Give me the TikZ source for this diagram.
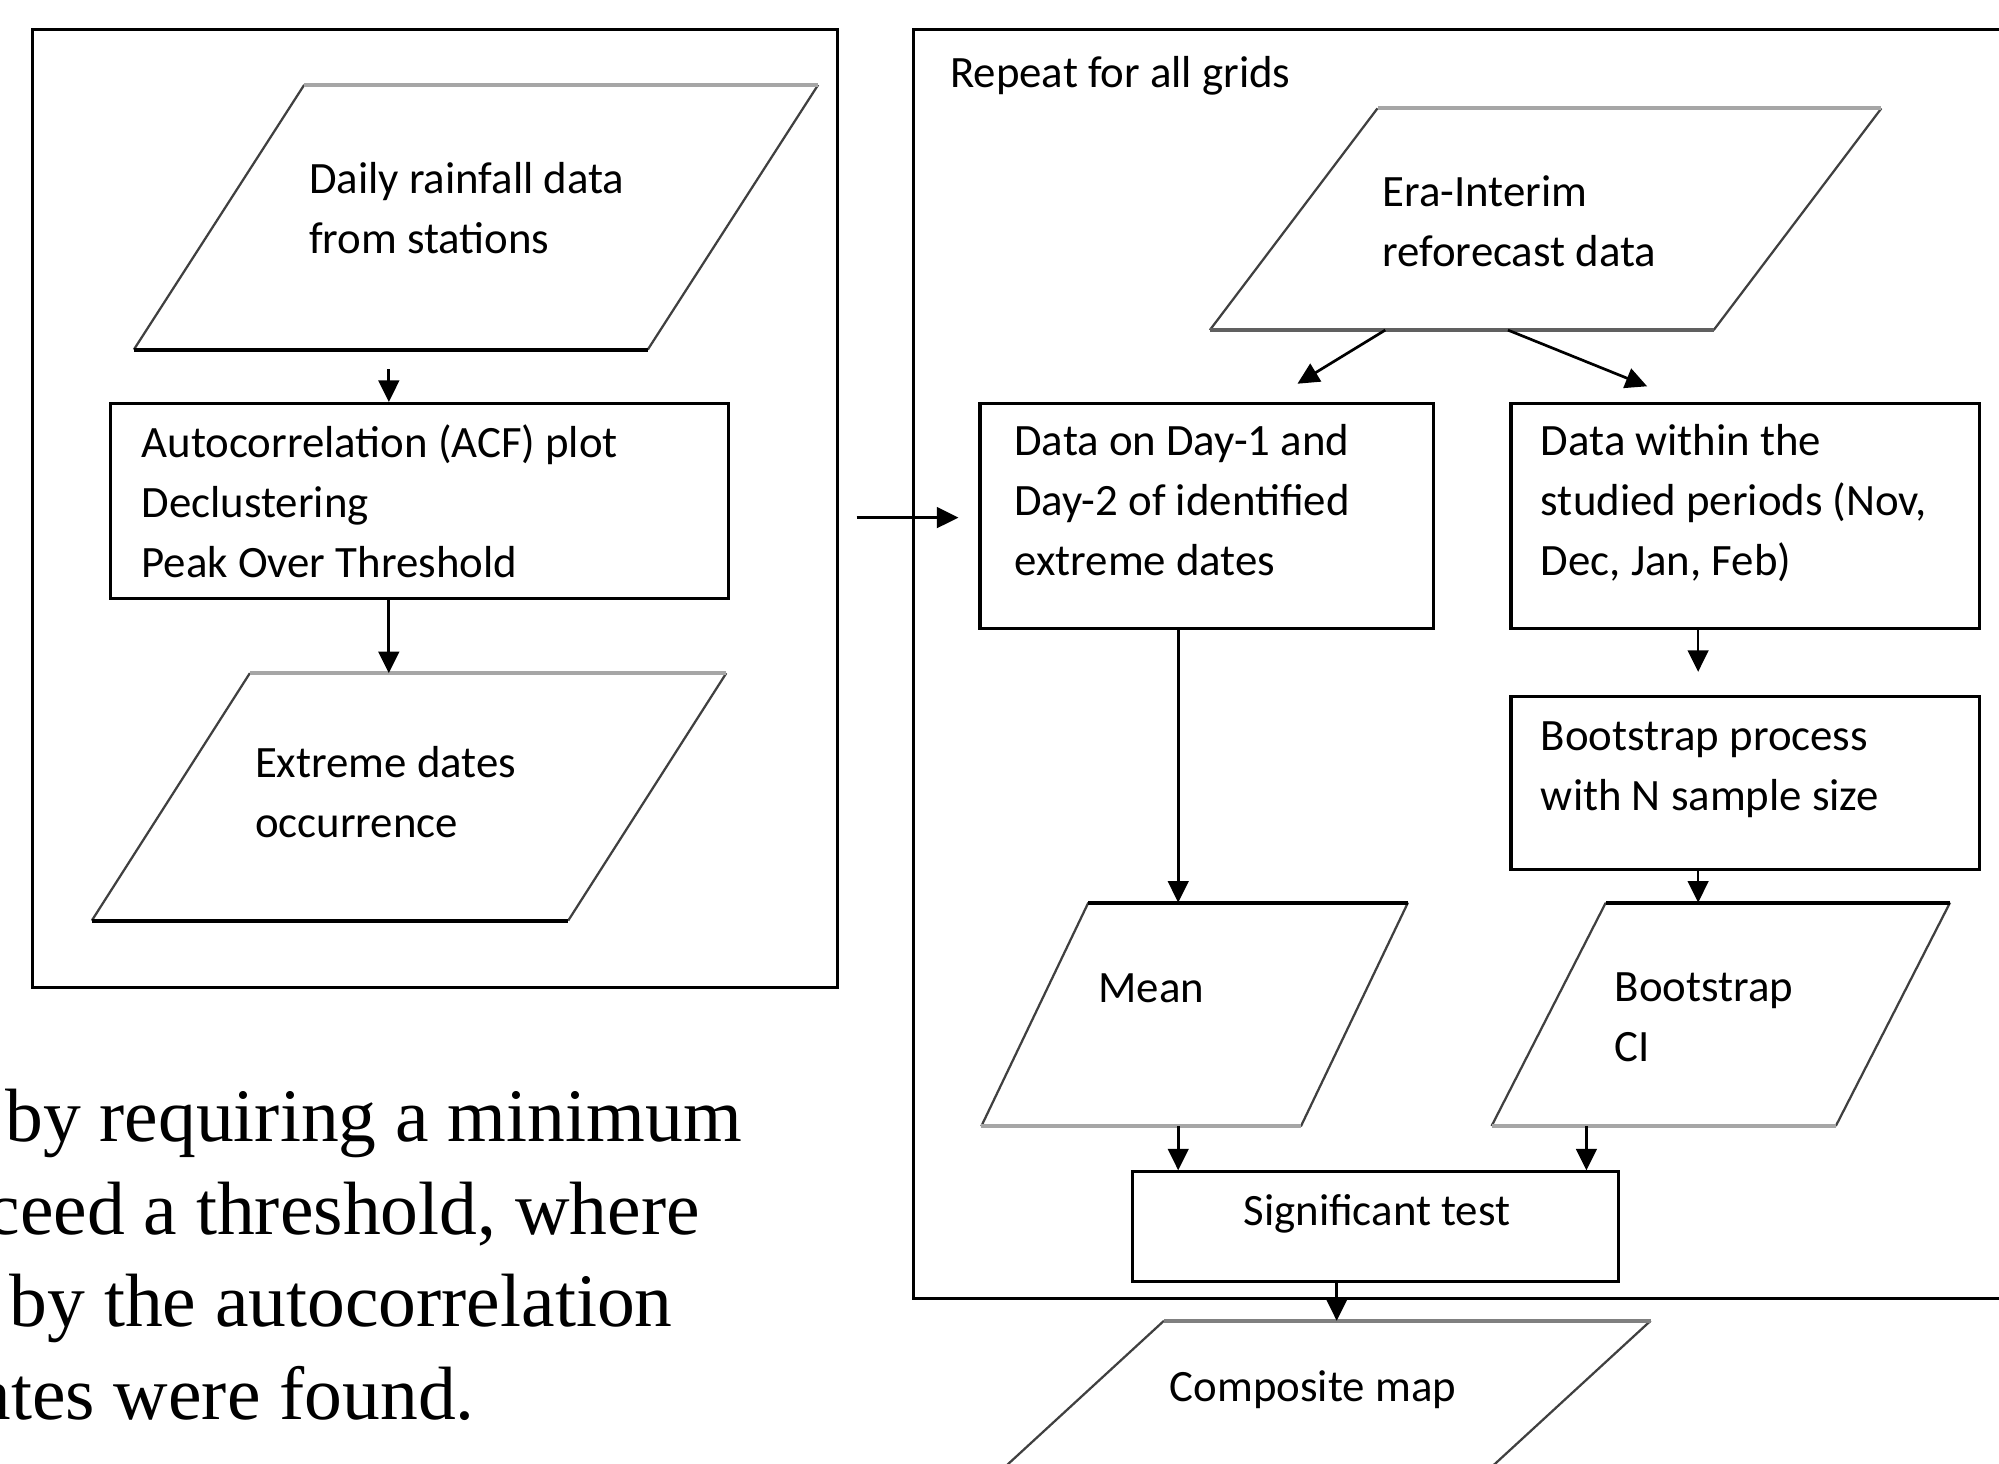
\documentclass[tikz,border=0pt]{standalone}
\usepackage{fontspec}
\setmainfont{Liberation Serif}
\newfontfamily\calibri{Carlito}
\usepackage{xcolor}
\usetikzlibrary{arrows.meta,calc}

\definecolor{topgray}{HTML}{A6A6A6}
\definecolor{midgray}{HTML}{606060}
\definecolor{sidegray}{HTML}{404040}

\tikzset{
	box/.style={draw=black, line width=0.7pt, inner sep=0pt, anchor=north west},
	holder/.style={inner sep=0pt, anchor=north west},
	lbl/.style={font=\calibri\fontsize{10}{13.4}\selectfont, align=left, inner sep=0pt, anchor=base west},
	para/.style={font=\fontsize{16.85}{20.6}\selectfont, inner sep=0pt, anchor=base east},
	arr/.style={-{Triangle[length=4.8pt,width=4.6pt]}, line width=0.6pt},
	ioside/.style={line width=0.5pt, draw=sidegray},
	ioedge/.style={line width=0.9pt},
}

% input/output shape: holder node, slant, top and bottom colour
\newcommand{\ioshape}[4]{%
	\draw[ioside] ($(#1.north west)+(#2,0)$) -- (#1.south west)
		(#1.north east) -- ($(#1.south east)-(#2,0)$);
	\draw[ioedge,draw=#3] ($(#1.north west)+(#2,0)$) -- (#1.north east);
	\draw[ioedge,draw=#4] (#1.south west) -- ($(#1.south east)-(#2,0)$);
}

\begin{document}
\begin{tikzpicture}[x=0.01cm,y=-0.01cm]
	\useasboundingbox (0,0) rectangle (1568,1148);
	\begin{scope}
	\clip (0,0) rectangle (1568,1148);
	% columns of the arrows
	\coordinate (colA) at (305,0);
	\coordinate (colM) at (924.2,0);
	\coordinate (colB) at (1244.4,0);
	\coordinate (colS) at (1048.5,0);
	\coordinate (colR) at (1332,0);
	\coordinate (rowA) at (0,406);

	% stations (labels sit on the baseline of their last line)
	\node[box, minimum width=6.31cm, minimum height=7.51cm] (stations) at (24,22) {};
	\node[holder, minimum width=5.35cm, minimum height=2.061cm] (daily) at (105,66.6) {};
	\ioshape{daily}{133.6}{topgray}{black}
	\node[lbl] (dailytxt) at (241.7,199) {Daily rainfall data\\from stations};
	\node[box, minimum width=4.842cm, minimum height=1.527cm] (acf) at (85.5,315.3) {};
	\node[lbl] (acftxt) at (110.3,453) {Autocorrelation (ACF) plot\\Declustering\\Peak Over Threshold};
	\node[holder, minimum width=4.96cm, minimum height=1.926cm] (extreme) at (72,528) {};
	\ioshape{extreme}{124}{topgray}{black}
	\node[lbl] (extremetxt) at (199.4,657) {Extreme dates\\occurrence};

	% grids
	\node[box, minimum width=9.5cm, minimum height=9.947cm] (grids) at (715,22) {};
	\node[lbl] (repeat) at (744.6,68.3) {Repeat for all grids};
	\node[holder, minimum width=5.25cm, minimum height=1.724cm] (era) at (949,85) {};
	\ioshape{era}{131.5}{topgray}{midgray}
	\node[lbl] (eratxt) at (1083.8,209.4) {Era-Interim\\reforecast data};
	\node[box, minimum width=3.555cm, minimum height=1.769cm] (d1) at (767.5,315) {};
	\node[lbl] (d1txt) at (795,451.7) {Data on Day-1 and\\Day-2 of identified\\extreme dates};
	\node[box, minimum width=3.67cm, minimum height=1.769cm] (d2) at (1184,315) {};
	\node[lbl] (d2txt) at (1208,451.7) {Data within the\\studied periods (Nov,\\Dec, Jan, Feb)};
	\node[box, minimum width=3.67cm, minimum height=1.357cm] (boot) at (1184,545.3) {};
	\node[lbl] (boottxt) at (1208,636) {Bootstrap process\\with N sample size};
	\node[holder, minimum width=3.331cm, minimum height=1.74cm] (mean) at (769.7,708) {};
	\ioshape{mean}{84}{black}{topgray}
	\node[lbl] (meantxt) at (861,786) {Mean};
	\node[holder, minimum width=3.58cm, minimum height=1.737cm] (bci) at (1170,708) {};
	\ioshape{bci}{89.6}{black}{topgray}
	\node[lbl] (bcitxt) at (1265.8,832.7) {Bootstrap\\CI};
	\node[box, minimum width=3.807cm, minimum height=0.858cm] (sig) at (887.3,918) {};
	\node[lbl] (sigtxt) at (974.7,961) {Significant test};
	\node[holder, minimum width=5.72cm, minimum height=1.75cm] (comp) at (721,1036) {};
	\ioshape{comp}{192}{midgray!80}{black}
	\node[lbl] (comptxt) at (917,1099) {Composite map};

	% arrows
	\draw[arr, shorten <=0.153cm] (daily.south -| colA) -- (acf.north -| colA);
	\draw[arr] (acf.south -| colA) -- (extreme.north -| colA);
	\draw[arr, shorten <=0.14cm, shorten >=0.157cm] (stations.east |- rowA) -- (d1.west |- rowA);
	\draw[arr] ($(era.south west)+(137.6,0)$) -- ($(d1.north west)+(250.2,-14)$);
	\draw[arr] ($(era.south west)+(233.8,0)$) -- ($(d2.north west)+(108,-12)$);
	\draw[arr, shorten >=0.183cm] (d2.south -| colR) -- (boot.north -| colR);
	\draw[arr] (boot.south -| colR) -- (bci.north -| colR);
	\draw[arr] (d1.south -| colM) -- (mean.north -| colM);
	\draw[arr] (mean.south -| colM) -- (sig.north -| colM);
	\draw[arr] (bci.south -| colB) -- (sig.north -| colB);
	\draw[arr] (sig.south -| colS) -- (comp.north -| colS);

	% text of the page
	\node[para] (line1) at (582.5,895.5) {by requiring a minimum};
	\node[para] (line2) at (549.5,968.7) {ceed a threshold, where};
	\node[para] (line3) at (528.2,1040.6) {by the autocorrelation};
	\node[para] (line4) at (373,1113.8) {ates were found.};
	\end{scope}
\end{tikzpicture}
\end{document}
